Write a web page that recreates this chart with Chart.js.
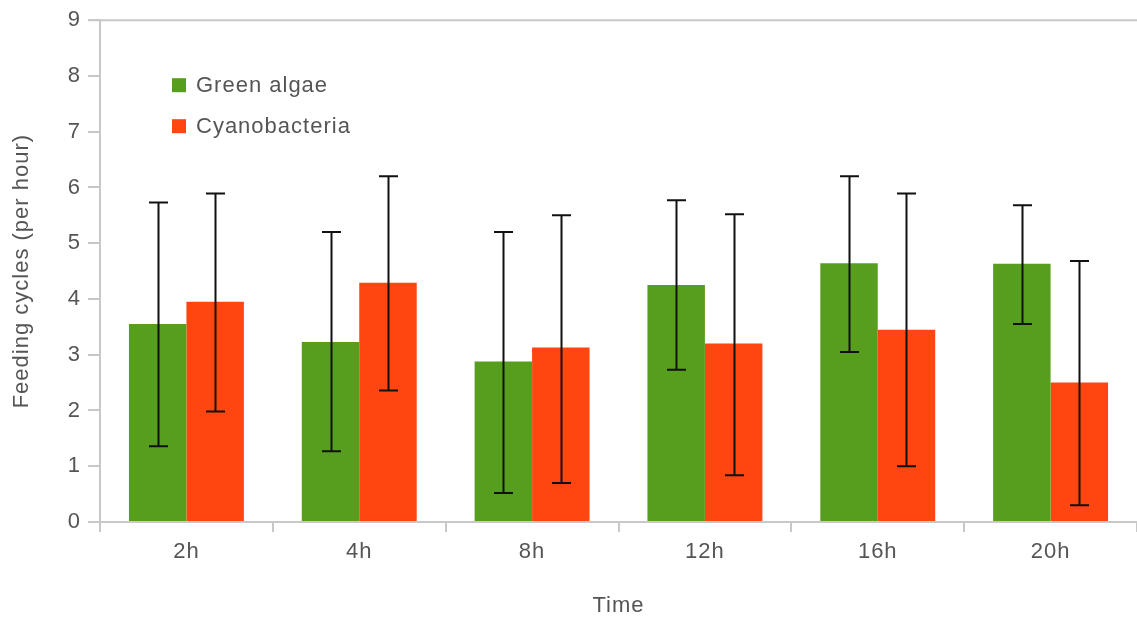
<!DOCTYPE html>
<html>
<head>
<meta charset="utf-8">
<script src="https://cdn.jsdelivr.net/npm/chart.js@4/dist/chart.umd.min.js"></script>
<style>
  html, body { margin: 0; padding: 0; background: #fff; }
  #wrap { width: 1137px; height: 619px; }
</style>
</head>
<body>
<div id="wrap"><canvas id="feedingChart"></canvas></div>
<script>
// --------------------------- DATA ------------------------
const timeLabels = ['2h', '4h', '8h', '12h', '16h', '20h'];

const greenMean = [3.55, 3.23, 2.88, 4.25, 4.64, 4.63];
const greenHigh = [5.73, 5.20, 5.20, 5.77, 6.20, 5.68];
const greenLow  = [1.36, 1.27, 0.52, 2.73, 3.05, 3.55];

const cyanoMean = [3.95, 4.29, 3.13, 3.20, 3.45, 2.50];
const cyanoHigh = [5.89, 6.20, 5.50, 5.52, 5.89, 4.68];
const cyanoLow  = [1.98, 2.36, 0.70, 0.84, 1.00, 0.30];

const yTicks = [0, 1, 2, 3, 4, 5, 6, 7, 8, 9];

const textColor = '#555';
const axisColor = '#c8c8c8';
const fontFamily = '"Liberation Sans", Arial, sans-serif';
const fontSize = 22;
const spacing = '1px';

// slightly wider text, like the original renderer
// (canvas resize wipes ctx state, so set it again before layout and draw)
const spacingPlugin = {
      id: 'spacing',
      beforeUpdate(chart) { chart.ctx.letterSpacing = spacing; },
      beforeDraw(chart) { chart.ctx.letterSpacing = spacing; }
};

// error bars drawn from each bar's position on the scales
const errorBarPlugin = {
      id: 'errorBars',
      afterDatasetsDraw(chart) {
            const ctx = chart.ctx;
            const y = chart.scales.y;
            ctx.save();
            ctx.strokeStyle = '#111';
            ctx.lineWidth = 2;
            chart.data.datasets.forEach((ds, i) => {
                  const meta = chart.getDatasetMeta(i);
                  meta.data.forEach((bar, j) => {
                        const top = y.getPixelForValue(ds.errHigh[j]);
                        const bottom = y.getPixelForValue(ds.errLow[j]);
                        const x = Math.round(bar.x) + 0.5;
                        const half = 9.5;
                        ctx.beginPath();
                        ctx.moveTo(x, top);
                        ctx.lineTo(x, bottom);
                        ctx.moveTo(x - half, top);
                        ctx.lineTo(x + half, top);
                        ctx.moveTo(x - half, bottom);
                        ctx.lineTo(x + half, bottom);
                        ctx.stroke();
                  });
            });
            ctx.restore();
      }
};

// top border line + legend inside the plot
const frameAndLegendPlugin = {
      id: 'frameLegend',
      afterDraw(chart) {
            const ctx = chart.ctx;
            const area = chart.chartArea;
            ctx.save();
            ctx.strokeStyle = axisColor;
            ctx.lineWidth = 2;
            ctx.beginPath();
            ctx.moveTo(area.left - 12, area.top);
            ctx.lineTo(chart.width, area.top);
            ctx.stroke();

            ctx.font = fontSize + 'px ' + fontFamily;
            ctx.letterSpacing = spacing;
            ctx.textBaseline = 'middle';
            chart.data.datasets.forEach((ds, i) => {
                  const cy = area.top + 65 + i * 41;
                  ctx.fillStyle = ds.backgroundColor;
                  ctx.fillRect(area.left + 72, cy - 7, 14, 14);
                  ctx.fillStyle = textColor;
                  ctx.fillText(ds.label, area.left + 96, cy + 1);
            });
            ctx.restore();
      }
};

const ctx = document.getElementById('feedingChart').getContext('2d');

new Chart(ctx, {
      type: 'bar',
      data: {
            labels: timeLabels,
            datasets: [
                  {
                        label: 'Green algae',
                        data: greenMean,
                        errHigh: greenHigh,
                        errLow: greenLow,
                        backgroundColor: '#589e1e',
                        categoryPercentage: 0.665,
                        barPercentage: 1.0,
                  },
                  {
                        label: 'Cyanobacteria',
                        data: cyanoMean,
                        errHigh: cyanoHigh,
                        errLow: cyanoLow,
                        backgroundColor: '#ff4510',
                        categoryPercentage: 0.665,
                        barPercentage: 1.0,
                  }
            ]
      },
      options: {
            responsive: true,
            maintainAspectRatio: false,
            animation: false,
            layout: { padding: { top: 18, right: 0, left: 0, bottom: 0 } },
            scales: {
                  y: {
                        min: 0,
                        max: 9,
                        afterBuildTicks: (scale) => { scale.ticks = yTicks.map(v => ({ value: v })); },
                        afterFit: (scale) => { scale.width = 100; },
                        border: { color: axisColor, width: 2 },
                        grid: { display: true, drawOnChartArea: false, drawTicks: true, tickLength: 12, color: axisColor, lineWidth: 2 },
                        ticks: { color: textColor, font: { family: fontFamily, size: fontSize }, padding: 7 },
                        title: { display: true, text: 'Feeding cycles (per hour)', color: textColor, font: { family: fontFamily, size: fontSize }, padding: { top: 9, bottom: 0 } }
                  },
                  x: {
                        afterFit: (scale) => { scale.height = 97; },
                        border: { color: axisColor, width: 2 },
                        grid: { display: true, drawOnChartArea: false, drawTicks: true, tickLength: 10, color: axisColor, lineWidth: 2, offset: true },
                        ticks: { color: textColor, font: { family: fontFamily, size: fontSize }, padding: 7 },
                        title: { display: true, text: 'Time', color: textColor, font: { family: fontFamily, size: fontSize }, padding: { top: 0, bottom: 0 } }
                  }
            },
            plugins: {
                  legend: { display: false },
                  tooltip: { enabled: false }
            }
      },
      plugins: [spacingPlugin, errorBarPlugin, frameAndLegendPlugin]
});
</script>
</body>
</html>
